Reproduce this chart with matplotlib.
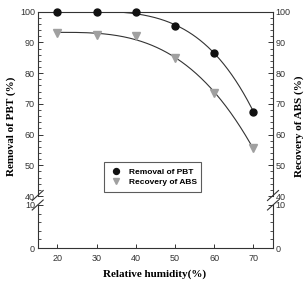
import numpy as np
import matplotlib
matplotlib.use("Agg")
import matplotlib.pyplot as plt
from matplotlib.ticker import MultipleLocator

humidity = [20, 30, 40, 50, 60, 70]
removal_pbt = [100.0, 100.0, 100.0, 95.5, 86.5, 67.5]
recovery_abs = [93.0, 92.5, 92.0, 85.0, 73.5, 55.5]
x_ticks = [20, 30, 40, 50, 60, 70]
top_ticks = [40, 50, 60, 70, 80, 90, 100]
bottom_ticks = [0, 10]


def fit_curve(x, y):
    # least-squares fit of y = a - b*(x - x0)^p
    x = np.asarray(x, float)
    y = np.asarray(y, float)
    d = x - x.min()
    best = None
    for p in np.linspace(1.5, 6, 451):
        A = np.column_stack([np.ones_like(d), -(d / 50.0) ** p])
        coef, *_ = np.linalg.lstsq(A, y, rcond=None)
        err = np.sum((A @ coef - y) ** 2)
        if best is None or err < best[0]:
            best = (err, p, coef)
    _, p, coef = best
    xs = np.linspace(x.min(), x.max(), 200)
    return xs, coef[0] - coef[1] * ((xs - x.min()) / 50.0) ** p


W, H = 308, 282
fig = plt.figure(figsize=(W / 100, H / 100), dpi=100)
left = 37.7 / W
right = 273 / W
ax_top = fig.add_axes([left, 1 - 196 / H, right - left, (196 - 11.7) / H])
ax_bot = fig.add_axes([left, 1 - 248 / H, right - left, (248 - 205) / H])

label_font = dict(family="Liberation Serif", size=8, weight="bold")

for ax in (ax_top, ax_bot):
    ax.set_xlim(15, 75)
    for s in ax.spines.values():
        s.set_linewidth(0.8)
        s.set_color("#333333")
    ax.tick_params(axis="y", which="both", direction="in", left=True, right=True,
                   labelleft=True, labelright=True, colors="#333333",
                   labelsize=6.5, pad=2)
    ax.tick_params(axis="y", which="major", length=3.5, width=0.7)
    ax.tick_params(axis="y", which="minor", length=2, width=0.6)
    ax.yaxis.set_minor_locator(MultipleLocator(2))

ax_top.set_ylim(40, 100)
ax_top.set_yticks(top_ticks)
ax_top.spines["bottom"].set_visible(False)
ax_top.tick_params(axis="x", which="both", bottom=False, top=False, labelbottom=False)

ax_bot.set_ylim(0, 10)
ax_bot.set_yticks(bottom_ticks)
ax_bot.spines["top"].set_visible(False)
ax_bot.set_xticks(x_ticks)
ax_bot.tick_params(axis="x", which="major", direction="in", length=3, width=0.7,
                   colors="#333333", labelsize=6.5, pad=4, top=False)

for ax in (ax_top, ax_bot):
    for lab in ax.get_yticklabels() + ax.get_xticklabels():
        lab.set_fontfamily("Liberation Sans")

xs, ys = fit_curve(humidity, removal_pbt)
ax_top.plot(xs, ys, color="#333333", lw=0.8, zorder=2)
xs2, ys2 = fit_curve(humidity, recovery_abs)
ax_top.plot(xs2, ys2, color="#333333", lw=0.8, zorder=2)

ax_top.plot(humidity, removal_pbt, "o", color="#111111", ms=5, zorder=3,
            label="Removal of PBT", clip_on=False)
ax_top.plot(humidity, recovery_abs, "v", color="#a0a0a0", ms=5.5, zorder=3,
            label="Recovery of ABS", clip_on=False)

leg = ax_top.legend(loc="lower left", bbox_to_anchor=(0.265, 0.0, 0.446, 0.174),
                    mode="expand", frameon=True, fancybox=False, borderpad=0.7,
                    handletextpad=0.8, labelspacing=0.3, handlelength=1.5,
                    markerscale=0.85,
                    prop=dict(family="Liberation Sans", size=6, weight="bold"))
leg.get_frame().set_edgecolor("#333333")
leg.get_frame().set_linewidth(0.8)


def px(xp, yp):
    return (xp / W, 1 - yp / H)


for xc in (37.7, 273):
    for yc in (195.5, 205):
        x0, y0 = px(xc - 5.5, yc + 5)
        x1, y1 = px(xc + 5.5, yc - 5)
        fig.add_artist(plt.Line2D([x0, x1], [y0, y1], transform=fig.transFigure,
                                  color="#333333", lw=0.8))

fig.text(11 / W, 1 - 126 / H, "Removal of PBT (%)", rotation=90,
         ha="center", va="center", **label_font)
fig.text(299 / W, 1 - 126 / H, "Recovery of ABS (%)", rotation=90,
         ha="center", va="center", **label_font)
fig.text(155 / W, 1 - 274 / H, "Relative humidity(%)", ha="center", va="center",
         **label_font)

fig.savefig("out.png", dpi=100)
